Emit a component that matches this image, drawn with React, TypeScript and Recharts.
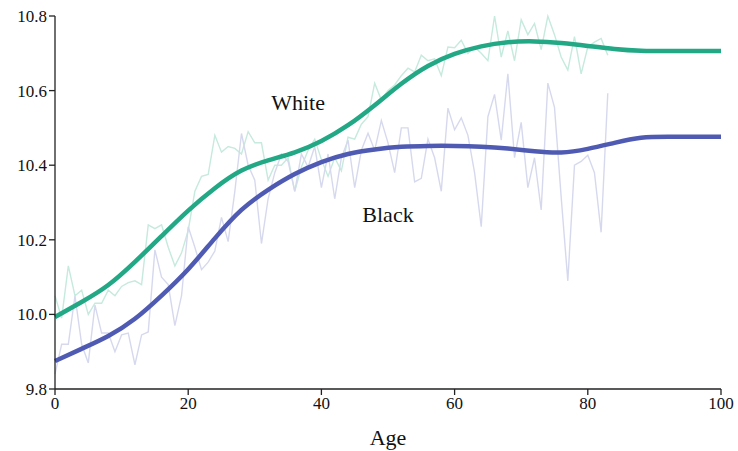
import { LineChart, Line, XAxis, YAxis, ReferenceDot } from "recharts";

const ages = Array.from({ length: 84 }, (_, i) => i);

// yearly noisy means, ages 0..83
const whiteRaw = [
  10.05, 9.99, 10.13, 10.05, 10.065, 10.0, 10.03, 10.03, 10.065, 10.05,
  10.075, 10.085, 10.09, 10.08, 10.24, 10.23, 10.24, 10.18, 10.13, 10.165,
  10.225, 10.33, 10.37, 10.375, 10.48, 10.435, 10.45, 10.445, 10.43, 10.49,
  10.46, 10.46, 10.36, 10.4, 10.4, 10.42, 10.33, 10.395, 10.44, 10.47,
  10.415, 10.37, 10.42, 10.385, 10.475, 10.47, 10.51, 10.53, 10.62, 10.575,
  10.6, 10.615, 10.64, 10.66, 10.65, 10.695, 10.68, 10.685, 10.64, 10.717,
  10.715, 10.735, 10.7, 10.717, 10.7, 10.68, 10.8, 10.69, 10.76, 10.68,
  10.79, 10.75, 10.78, 10.71, 10.8, 10.75, 10.69, 10.655, 10.745, 10.645,
  10.717, 10.73, 10.74, 10.695,
];

const blackRaw = [
  9.84, 9.92, 9.92, 10.05, 9.92, 9.87, 10.025, 9.95, 9.95, 9.9,
  9.945, 9.95, 9.865, 9.945, 9.953, 10.173, 10.1, 10.08, 9.97, 10.05,
  10.235, 10.18, 10.12, 10.14, 10.17, 10.26, 10.195, 10.33, 10.485, 10.4,
  10.36, 10.19, 10.31, 10.38, 10.43, 10.41, 10.33, 10.43, 10.395, 10.45,
  10.34, 10.43, 10.31, 10.42, 10.467, 10.34, 10.44, 10.486, 10.44, 10.52,
  10.46, 10.38, 10.5, 10.5, 10.355, 10.365, 10.47, 10.42, 10.33, 10.553,
  10.495, 10.527, 10.48, 10.38, 10.235, 10.53, 10.59, 10.467, 10.645, 10.42,
  10.515, 10.34, 10.42, 10.28, 10.62, 10.555, 10.315, 10.09, 10.4, 10.41,
  10.427, 10.38, 10.22, 10.593,
];

// smoothed fits, read every 4 years, flat after 88
const smoothAges = [0, 4, 8, 12, 16, 20, 24, 28, 32, 36, 40, 44, 48, 52, 56, 60, 64, 68, 72, 76, 80, 84, 88, 92, 96, 100];
const whiteFit = [
  9.993, 10.033, 10.075, 10.14, 10.21, 10.28, 10.34, 10.39, 10.414, 10.432, 10.463, 10.505,
  10.56, 10.62, 10.669, 10.7, 10.72, 10.731, 10.733, 10.728, 10.72, 10.711, 10.706, 10.706,
  10.706, 10.706,
];
const blackFit = [
  9.875, 9.908, 9.94, 9.985, 10.05, 10.118, 10.205, 10.285, 10.335, 10.378, 10.41, 10.432,
  10.443, 10.45, 10.452, 10.452, 10.45, 10.445, 10.437, 10.431, 10.443, 10.46, 10.476, 10.476,
  10.476, 10.476,
];

const xTicks = [0, 20, 40, 60, 80, 100];
const yTicks = [9.8, 10.0, 10.2, 10.4, 10.6, 10.8];

const whiteRawData = ages.map((a, i) => ({ age: a, value: whiteRaw[i] }));
const blackRawData = ages.map((a, i) => ({ age: a, value: blackRaw[i] }));
const whiteFitData = smoothAges.map((a, i) => ({ age: a, value: whiteFit[i] }));
const blackFitData = smoothAges.map((a, i) => ({ age: a, value: blackFit[i] }));

const FONT = "'Liberation Serif', serif";
const AXIS = "#222";

export default function App() {
  return (
    <div style={{ position: "absolute", left: 0, top: 0, background: "#fff" }}>
      <LineChart
        width={738}
        height={451}
        margin={{ top: 16, right: 17, left: 0, bottom: 0 }}
      >
        <XAxis
          dataKey="age"
          type="number"
          domain={[0, 100]}
          ticks={xTicks}
          allowDuplicatedCategory={false}
          height={62}
          stroke={AXIS}
          strokeWidth={1.3}
          tickSize={6}
          tick={{ fill: "#111", fontSize: 17, fontFamily: FONT }}
          label={{
            value: "Age",
            position: "insideBottom",
            offset: 6,
            fill: "#111",
            fontSize: 22,
            fontFamily: FONT,
          }}
        />
        <YAxis
          type="number"
          domain={[9.8, 10.8]}
          ticks={yTicks}
          width={55}
          stroke={AXIS}
          strokeWidth={1.3}
          tickSize={6}
          tickFormatter={(v: number) => v.toFixed(1)}
          tick={{ fill: "#111", fontSize: 17, fontFamily: FONT }}
        />
        <Line
          data={whiteRawData}
          dataKey="value"
          type="linear"
          stroke="#c6eadd"
          strokeWidth={1.4}
          dot={false}
          isAnimationActive={false}
        />
        <Line
          data={blackRawData}
          dataKey="value"
          type="linear"
          stroke="#d6d9ee"
          strokeWidth={1.4}
          dot={false}
          isAnimationActive={false}
        />
        <Line
          data={whiteFitData}
          dataKey="value"
          type="basis"
          stroke="#22a884"
          strokeWidth={4.5}
          dot={false}
          isAnimationActive={false}
        />
        <Line
          data={blackFitData}
          dataKey="value"
          type="basis"
          stroke="#4f5bb2"
          strokeWidth={4.5}
          dot={false}
          isAnimationActive={false}
        />
        <ReferenceDot
          x={36.5}
          y={10.57}
          r={0}
          stroke="none"
          fill="none"
          label={{ value: "White", position: "center", fill: "#111", fontSize: 22, fontFamily: FONT }}
        />
        <ReferenceDot
          x={50}
          y={10.27}
          r={0}
          stroke="none"
          fill="none"
          label={{ value: "Black", position: "center", fill: "#111", fontSize: 22, fontFamily: FONT }}
        />
      </LineChart>
    </div>
  );
}
